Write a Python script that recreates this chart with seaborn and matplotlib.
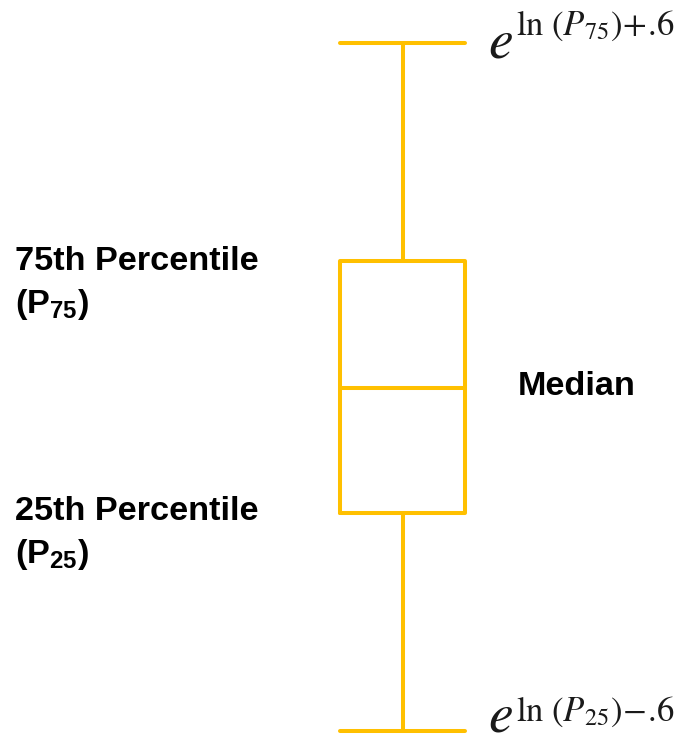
import numpy as np
import matplotlib
matplotlib.use("Agg")
import matplotlib.pyplot as plt
import seaborn as sns

# Quartiles of the distribution and the offset (in natural-log units)
# that places the whisker ends
p25 = 10.0
median = 14.1
p75 = 20.0
log_offset = 0.6

lower_whisker = float(np.exp(np.log(p25) - log_offset))
upper_whisker = float(np.exp(np.log(p75) + log_offset))
values = [lower_whisker, p25, median, p75, upper_whisker]

gold = "#FFC000"
W, H = 691, 743

sns.set_theme(style="white")
plt.rcParams["font.family"] = ["Liberation Sans", "DejaVu Sans"]
plt.rcParams["text.color"] = "black"
plt.rcParams["mathtext.fontset"] = "custom"
plt.rcParams["mathtext.rm"] = "Liberation Sans"
plt.rcParams["mathtext.it"] = "Liberation Sans:italic"
plt.rcParams["mathtext.bf"] = "Liberation Sans:bold"

fig = plt.figure(figsize=(W / 100, H / 100), dpi=100)
ax = fig.add_axes([0, 0, 1, 1])

# Whiskers span the full data range, so they end exactly at the two outer values
sns.boxplot(y=values, whis=(0, 100), width=0.8, fill=False, color=gold,
            linewidth=2.9, log_scale=True, capwidths=0.8, ax=ax)

# Frame the box: centre at x=402 px, 125 px wide
ppu = 125 / 0.8
ax.set_xlim(-402.5 / ppu, (W - 402.5) / ppu)
top_px, bottom_px = 43, 731
ppl = (bottom_px - top_px) / (np.log(upper_whisker) - np.log(lower_whisker))
ax.set_ylim(np.exp(np.log(lower_whisker) - (H - bottom_px) / ppl),
            np.exp(np.log(upper_whisker) + top_px / ppl))
ax.axis("off")


def fpos(x, y):
    return x / W, 1 - y / H


label_kw = dict(fontsize=24.7, fontweight="bold", va="baseline", color="black")
fig.text(*fpos(15, 270), "75th Percentile", **label_kw)
fig.text(*fpos(15, 313), r"$\mathbf{(P_{75})}$", **label_kw)
fig.text(*fpos(15, 520), "25th Percentile", **label_kw)
fig.text(*fpos(15, 563), r"$\mathbf{(P_{25})}$", **label_kw)
fig.text(*fpos(518, 387), "Median", fontsize=24.7, fontweight="bold",
         va="center", color="black")

# Whisker-end formulas
formula_color = "#1a1a1a"
for base_y, sup_y, sup in [(58, 35, r"$\ln\,(P_{75})\!+\!.\!6$"),
                           (732, 721, r"$\ln\,(P_{25})\!-\!.\!6$")]:
    fig.text(*fpos(488, base_y), r"$e$", fontsize=40, math_fontfamily="stix",
             va="baseline", color=formula_color)
    fig.text(*fpos(516, sup_y), sup, fontsize=25, math_fontfamily="stix",
             va="baseline", color=formula_color)

fig.savefig("out.png", dpi=100)
